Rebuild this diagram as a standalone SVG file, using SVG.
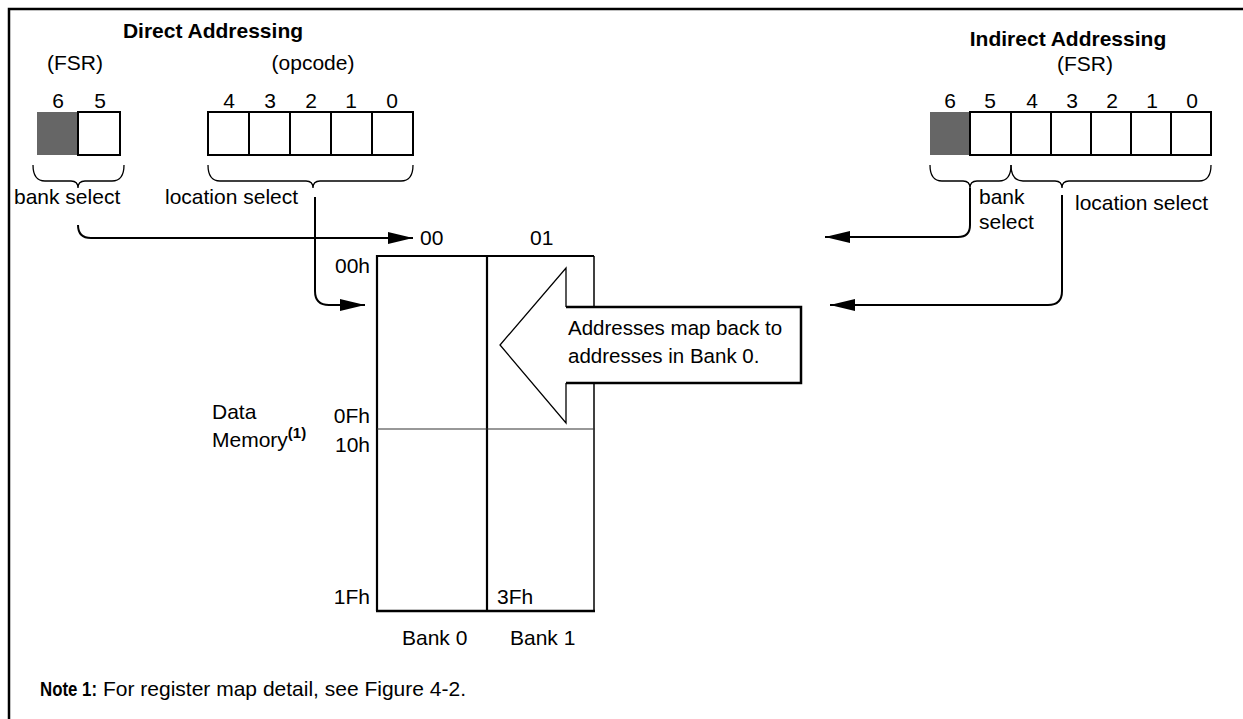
<svg xmlns="http://www.w3.org/2000/svg" width="1243" height="719" viewBox="0 0 1243 719">
<defs>
<style>
text{font-family:"Liberation Sans",Arial,sans-serif;font-size:21px;fill:#000}
.b{font-weight:bold}
.m{text-anchor:middle}
.e{text-anchor:end}
.s{font-size:20.5px}
.n{font-size:20px}
.cell{fill:#fff;stroke:#000;stroke-width:2}
.gray{fill:#666;stroke:none}
.brace{fill:none;stroke:#000;stroke-width:1.3}
.conn{fill:none;stroke:#000;stroke-width:2}
.mem{fill:none;stroke:#000;stroke-width:2.2}
</style>
<marker id="ah" markerWidth="26" markerHeight="14" refX="25" refY="7" orient="auto" markerUnits="userSpaceOnUse">
<path d="M0,1 L25,7 L0,13 z" fill="#000"/>
</marker>
</defs>
<rect width="1243" height="719" fill="#fff"/>
<path d="M9,719 L9,9 L1243,9" fill="none" stroke="#000" stroke-width="2.5"/>

<g id="direct-fsr">
<text class="b m" x="213" y="38">Direct Addressing</text>
<text class="m" x="75" y="70">(FSR)</text>
<text class="m" x="58" y="108">6</text>
<text class="m" x="100" y="108">5</text>
<rect class="gray" x="37" y="112" width="41" height="43"/>
<rect class="cell" x="78" y="112" width="42" height="43"/>
<path class="brace" d="M33,165 Q33,181 45,181 L71,181 Q78,181 78,188 Q78,181 85,181 L112,181 Q124,181 124,165"/>
<text x="14" y="204">bank select</text>
</g>

<g id="direct-opcode">
<text class="m" x="313" y="70">(opcode)</text>
<text class="m" x="229" y="108">4</text>
<text class="m" x="270" y="108">3</text>
<text class="m" x="311" y="108">2</text>
<text class="m" x="351" y="108">1</text>
<text class="m" x="392" y="108">0</text>
<rect class="cell" x="208" y="112" width="41" height="43"/>
<rect class="cell" x="249" y="112" width="41" height="43"/>
<rect class="cell" x="290" y="112" width="41" height="43"/>
<rect class="cell" x="331" y="112" width="41" height="43"/>
<rect class="cell" x="372" y="112" width="41" height="43"/>
<path class="brace" d="M208,165 Q208,181 220,181 L306,181 Q313,181 313,188 Q313,181 320,181 L401,181 Q413,181 413,165"/>
<text x="165" y="204">location select</text>
</g>

<g id="indirect-fsr">
<text class="b m" x="1068" y="46">Indirect Addressing</text>
<text class="m" x="1085" y="71">(FSR)</text>
<text class="m" x="950" y="108">6</text>
<text class="m" x="990" y="108">5</text>
<text class="m" x="1032" y="108">4</text>
<text class="m" x="1072" y="108">3</text>
<text class="m" x="1112" y="108">2</text>
<text class="m" x="1152" y="108">1</text>
<text class="m" x="1192" y="108">0</text>
<rect class="gray" x="930" y="112" width="40" height="43"/>
<rect class="cell" x="970" y="112" width="41" height="43"/>
<rect class="cell" x="1011" y="112" width="40" height="43"/>
<rect class="cell" x="1051" y="112" width="40" height="43"/>
<rect class="cell" x="1091" y="112" width="40" height="43"/>
<rect class="cell" x="1131" y="112" width="40" height="43"/>
<rect class="cell" x="1171" y="112" width="40" height="43"/>
<path class="brace" d="M930,165 Q930,181 942,181 L963,181 Q970,181 970,188 Q970,181 977,181 L999,181 Q1011,181 1011,165"/>
<path class="brace" d="M1011,165 Q1011,181 1023,181 L1055,181 Q1062,181 1062,188 Q1062,181 1069,181 L1199,181 Q1211,181 1211,165"/>
<text x="979" y="204">bank</text>
<text x="979" y="229">select</text>
<text x="1075" y="210">location select</text>
</g>

<g id="data-memory">
<text x="420" y="245">00</text>
<text x="530" y="245">01</text>
<path class="mem" d="M377,611 L377,256 L594,256"/>
<line x1="487" y1="256" x2="487" y2="611" stroke="#000" stroke-width="2.2"/>
<line x1="594" y1="256" x2="594" y2="611" stroke="#000" stroke-width="1.5"/>
<line x1="377" y1="429" x2="595" y2="429" stroke="#333" stroke-width="1.2"/>
<line x1="376" y1="611" x2="595" y2="611" stroke="#000" stroke-width="2.6"/>
<text class="e" x="370" y="273">00h</text>
<text class="e" x="370" y="423">0Fh</text>
<text class="e" x="370" y="452">10h</text>
<text class="e" x="370" y="604">1Fh</text>
<text x="497" y="604">3Fh</text>
<text x="402" y="645">Bank 0</text>
<text x="510" y="645">Bank 1</text>
<text x="212" y="419">Data</text>
<text x="212" y="447">Memory<tspan class="b" font-size="15" dy="-9">(1)</tspan></text>
</g>

<g id="map-back-arrow">
<polygon points="500,345 566,268 566,307 801,307 801,383 566,383 566,423" fill="#fff" stroke="none"/>
<path d="M566,307 L566,268 L500,345 L566,423 L566,383" fill="none" stroke="#000" stroke-width="1.3"/>
<path d="M566,307 L801,307 L801,383 L566,383" fill="none" stroke="#000" stroke-width="2.5"/>
<text class="s" x="568" y="335">Addresses map back to</text>
<text class="s" x="568" y="363">addresses in Bank 0.</text>
</g>

<g id="connectors">
<path class="conn" d="M78,225 Q78,238 91,238 L413,238" marker-end="url(#ah)"/>
<path class="conn" d="M315,197 L315,291 Q315,305 329,305 L365,305" marker-end="url(#ah)"/>
<path class="conn" d="M970,188 L970,225 Q970,237 958,237 L825,237" marker-end="url(#ah)"/>
<path class="conn" d="M1062,195 L1062,291 Q1062,305 1048,305 L830,305" marker-end="url(#ah)"/>
</g>

<g id="note">
<text class="b n" x="40" y="696" textLength="57" lengthAdjust="spacingAndGlyphs">Note 1:</text>
<text x="103" y="696">For register map detail, see Figure 4-2.</text>
</g>
</svg>
